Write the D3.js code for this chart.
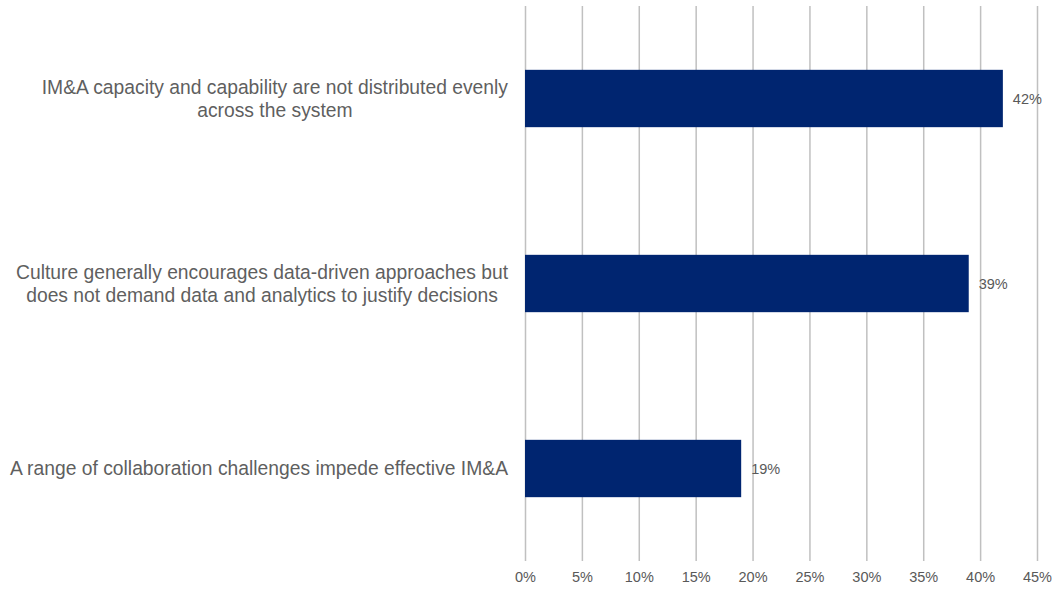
<!DOCTYPE html>
<html>
<head>
<meta charset="utf-8">
<script src="https://cdn.jsdelivr.net/npm/d3@7/dist/d3.min.js"></script>
<style>
  html, body { margin: 0; padding: 0; background: #ffffff; }
  svg { display: block; font-family: "Liberation Sans", Arial, sans-serif; }
</style>
</head>
<body>
<svg id="chart" width="1058" height="589"></svg>
<script>
// Survey responses: share of respondents selecting each statement
const categories = [
  ["IM&A capacity and capability are not distributed evenly", "across the system"],
  ["Culture generally encourages data-driven approaches but", "does not demand data and analytics to justify decisions"],
  ["A range of collaboration challenges impede effective IM&A"]
];
const values = [42, 39, 19];
const tickValues = [0, 5, 10, 15, 20, 25, 30, 35, 40, 45];

const svg = d3.select("#chart");
const margin = { left: 525, right: 21, top: 6, bottom: 28 };
const width = 1058, height = 589;

const x = d3.scaleLinear()
  .domain([0, 45])
  .range([margin.left, width - margin.right]);

const y = d3.scaleBand()
  .domain(d3.range(categories.length))
  .range([margin.top, height - margin.bottom])
  .paddingInner(0.69)
  .paddingOuter(0.345);

// vertical gridlines
const xAxis = d3.axisBottom(x)
  .tickValues(tickValues)
  .tickFormat(d => d + "%")
  .tickSize(-(height - margin.bottom - margin.top))
  .tickPadding(20);

const gx = svg.append("g")
  .attr("transform", `translate(0,${height - margin.bottom})`)
  .call(xAxis);
gx.select(".domain").remove();
gx.selectAll(".tick line")
  .attr("stroke", "#c0c0c0")
  .attr("stroke-width", 1.5);
gx.selectAll(".tick text")
  .attr("fill", "#595959")
  .attr("font-size", 14.5)
  .attr("dy", "0.1em");

// bars
svg.append("g")
  .selectAll("rect")
  .data(values)
  .join("rect")
  .attr("x", x(0))
  .attr("y", (d, i) => y(i))
  .attr("width", d => x(d) - x(0))
  .attr("height", y.bandwidth())
  .attr("fill", "#002570");

// value labels
svg.append("g")
  .selectAll("text")
  .data(values)
  .join("text")
  .attr("x", d => x(d) + 10)
  .attr("y", (d, i) => y(i) + y.bandwidth() / 2)
  .attr("dy", "0.35em")
  .attr("fill", "#595959")
  .attr("font-size", 14.5)
  .text(d => d + "%");

// category labels (wrapped, lines centred on each other, block right-aligned)
const lineHeight = 23;
const labels = svg.append("g")
  .selectAll("text")
  .data(categories)
  .join("text")
  .attr("text-anchor", "middle")
  .attr("fill", "#5f5f5f")
  .attr("font-size", 19.3);

labels.each(function (lines, i) {
  const t = d3.select(this);
  const cy = y(i) + y.bandwidth() / 2;
  const startY = cy - (lines.length - 1) * lineHeight / 2;
  lines.forEach((line, j) => {
    t.append("tspan")
      .attr("y", startY + j * lineHeight)
      .attr("dy", "0.35em")
      .text(line);
  });
});

labels.each(function () {
  const t = d3.select(this);
  const spans = t.selectAll("tspan").nodes();
  const maxW = d3.max(spans, s => s.getComputedTextLength());
  const cx = x(0) - 17 - maxW / 2;
  t.selectAll("tspan").attr("x", cx);
});
</script>
</body>
</html>
